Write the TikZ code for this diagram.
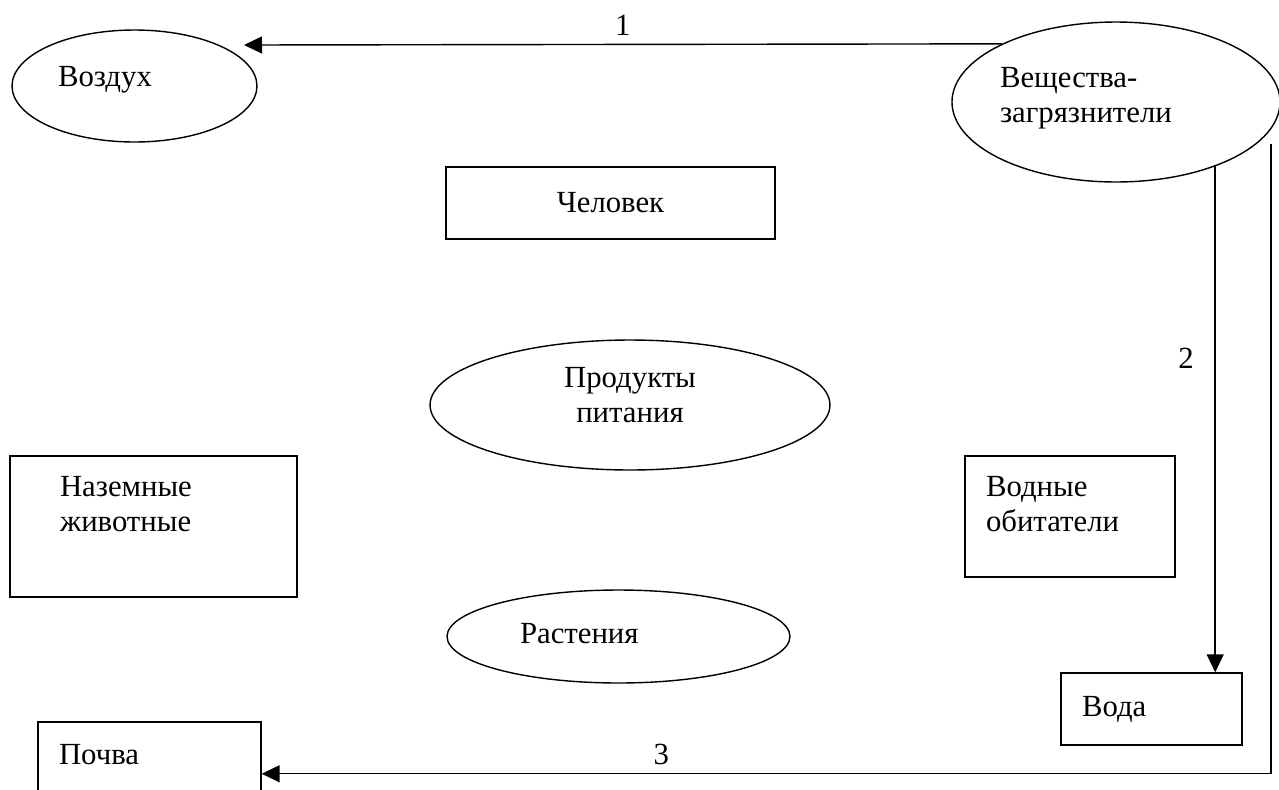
\documentclass[tikz,border=0pt]{standalone}
\usepackage{fontspec}
\setmainfont{Liberation Serif}
\usepackage{tikz}
\usetikzlibrary{arrows.meta, positioning, shapes.geometric, calc}

\begin{document}
\begin{tikzpicture}[x=0.02cm, y=-0.02cm,
      font=\fontsize{17.5}{20}\selectfont,
      oval/.style={ellipse, draw, line width=0.8pt, inner sep=0pt, align=left},
      box/.style={rectangle, draw, line width=0.8pt, inner sep=0pt, align=left},
      flow/.style={line width=0.8pt, -{Triangle[length=0.36cm, width=0.34cm]}}]

      \useasboundingbox (0,0) rectangle (1279,789);

      % Nodes
      \node[oval, minimum width=4.9cm, minimum height=2.24cm, text width=3.06cm,
            text height=0.2cm, text depth=0.2cm] (vozdukh) at (134.5,86) {Воздух};
      \node[oval, minimum width=6.52cm, minimum height=3.2cm, text width=4.64cm,
            text height=0.2cm, text depth=0.8cm] (veshch) at (1116,102) {Вещества-\\загрязнители};
      \node[box, minimum width=6.58cm, minimum height=1.44cm] (chelovek) at (610.5,203) {Человек};
      \node[oval, minimum width=8cm, minimum height=2.6cm, text width=3cm, align=center,
            text height=0.2cm, text depth=0.92cm] (produkty) at (630,405) {Продукты\\питания};
      \node[box, minimum width=5.74cm, minimum height=2.82cm, text width=3.74cm,
            text height=0.2cm, text depth=1.42cm] (zhivotnye) at (153.5,526.5) {Наземные\\животные};
      \node[box, minimum width=4.2cm, minimum height=2.42cm, text width=3.36cm,
            text height=0.2cm, text depth=1.02cm] (obitateli) at (1070,516.5) {Водные\\обитатели};
      \node[oval, minimum width=6.86cm, minimum height=1.86cm, text width=3.94cm,
            text height=0.32cm, text depth=0.06cm] (rasteniya) at (618.5,636.5) {Растения};
      \node[box, minimum width=3.62cm, minimum height=1.44cm, text width=2.78cm,
            text height=0.34cm, text depth=0.06cm] (voda) at (1151.5,709) {Вода};
      \node[box, minimum width=4.46cm, minimum height=1.44cm, text width=3.62cm,
            text height=0.32cm, text depth=0.08cm] (pochva) at (149.5,758) {Почва};

      % Arrows
      \coordinate (airend) at (244,45);
      \draw[flow] (veshch.153) -- node[above=0.05cm] {1} (airend);
      \draw[flow] (veshch.-33) -- node[pos=0.38, left=0.3cm] {2} (veshch.-33 |- voda.north);
      \draw[flow] ([yshift=-0.3cm]veshch.-10) |- node[pos=0.802, above=0.05cm] {3} (pochva.-8);
    \end{tikzpicture}
\end{document}
